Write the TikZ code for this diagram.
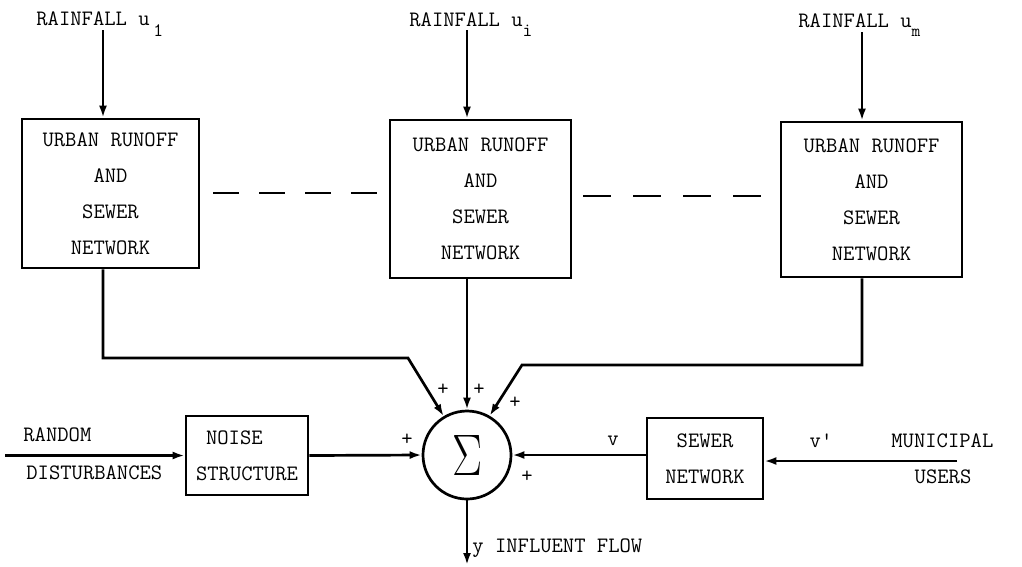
\documentclass[tikz,border=0pt]{standalone}
\usepackage{fontspec}
\usepackage{graphicx}
\usetikzlibrary{arrows.meta,calc}
\begin{document}
\begin{tikzpicture}[x=1pt,y=-1pt, line width=2.7pt,
  every node/.style={font=\ttfamily\fontsize{22}{36}\selectfont},
  blk/.style={draw, align=center, inner sep=0pt},
  arr/.style={-{Latex[length=12pt,width=8pt]}},
  lbl/.style={inner sep=0pt, anchor=west},
  dashline/.style={dash pattern=on 26pt off 20pt}]
\useasboundingbox (0,0) rectangle (1022,566);

% blocks
\node[blk, minimum width=177pt, minimum height=149pt] (b1) at (110.5,193.5) {URBAN RUNOFF\\AND\\SEWER\\NETWORK};
\node[blk, minimum width=181pt, minimum height=158pt] (b2) at (480.5,199) {URBAN RUNOFF\\AND\\SEWER\\NETWORK};
\node[blk, minimum width=181pt, minimum height=155pt] (b3) at (871.5,199.5) {URBAN RUNOFF\\AND\\SEWER\\NETWORK};
\node[blk, minimum width=122pt, minimum height=79pt, align=left] (n) at (247,455.5) {\hspace*{10pt}NOISE\\STRUCTURE};
\node[blk, minimum width=116pt, minimum height=81pt] (sw) at (705,458.5) {SEWER\\NETWORK};
\node[draw, circle, minimum size=88pt, inner sep=0pt] (s) at (467,455) {\resizebox{30pt}{40pt}{$\Sigma$}};

% rainfall labels
\node[inner sep=0pt, anchor=base west] (r1) at (35,25) {RAINFALL u\,\raisebox{-11pt}{\fontsize{19}{19}\selectfont 1}};
\node[inner sep=0pt, anchor=base west] (r2) at (408,26) {RAINFALL u\raisebox{-10pt}{\fontsize{19}{19}\selectfont i}};
\node[inner sep=0pt, anchor=base west] (r3) at (797,27) {RAINFALL u\raisebox{-9pt}{\fontsize{17}{17}\selectfont m}};

\coordinate (c1) at (103,30);
\coordinate (c2) at (467,30);
\coordinate (c3) at (862,32);
\draw[arr] (c1) -- (c1 |- b1.north);
\draw[arr] (c2) -- (c2 |- b2.north);
\draw[arr] (c3) -- (c3 |- b3.north);

% dashed links
\draw[dashline] (213,193) -- (377,193);
\draw[dash pattern=on 28pt off 22pt] (583,196) -- (763,196);

% to summing junction
\coordinate (k1) at (408,358);
\coordinate (k3) at (522,365);
\draw[arr] (c1 |- b1.south) |- (k1) -- (s.121);
\draw[arr] (c2 |- b2.south) -- (s.north);
\draw[arr] (c3 |- b3.south) |- (k3) -- (s.60);

% noise
\coordinate (in0) at (5,455.5);
\draw[arr] (in0) -- (n.west);
\draw[arr] (n.east) -- (s.west);
\node[lbl] (t1) at (22,435) {RANDOM};
\node[lbl] (t2) at (25,473) {DISTURBANCES};

% municipal
\coordinate (mu) at (957,461);
\draw[arr] (mu) -- (mu -| sw.east);
\draw[arr] (sw.west |- s.east) -- (s.east);
\node (v1) at (613,441) {v};
\node (v2) at (821,441) {v'};
\node[lbl] (m1) at (890,441) {MUNICIPAL};
\node (m2) at (943,477) {USERS};

% output
\coordinate (yo) at (467,565);
\draw[arr] (s.south) -- (yo);
\node[lbl] (yl) at (471,548) {y INFLUENT FLOW};

% signs
\node (p1) at (443,390) {+};
\node (p2) at (479,390) {+};
\node (p3) at (515,403) {+};
\node (p4) at (407,440) {+};
\node (p5) at (527,477) {+};
\end{tikzpicture}
\end{document}
